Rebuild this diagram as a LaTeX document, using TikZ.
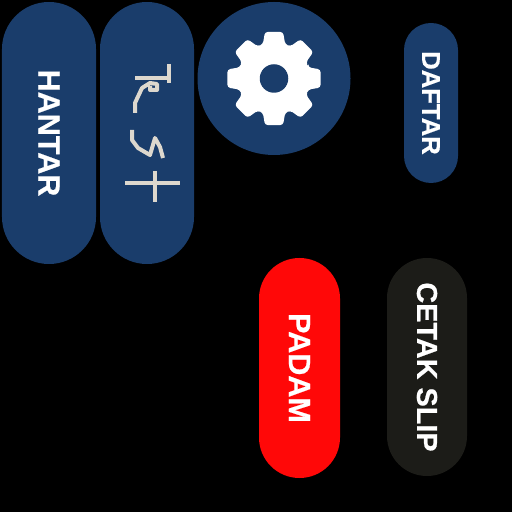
\documentclass[tikz,border=0pt]{standalone}
\usepackage{fontspec}
\setmainfont{Liberation Sans}[BoldFeatures={FakeBold=0.6}]
\usepackage{xcolor}
\usetikzlibrary{positioning,calc,shapes.misc}
\definecolor{Navy}{HTML}{1A3D6B}
\definecolor{Chalk}{HTML}{DDD8CE}
\definecolor{Alarm}{HTML}{FF0808}
\definecolor{Coal}{HTML}{1C1C18}
\tikzset{
  pill/.style={rounded rectangle,rotate=-90,inner sep=0pt,text=white,fill=Navy,font=\fontsize{17.4}{19}\selectfont\bfseries},
  chalk/.style={draw=Chalk,line width=0.8mm,line join=round}
}

\begin{document}
\begin{tikzpicture}[x=0.2mm,y=-0.2mm]
  \useasboundingbox[fill=black] (0,0) rectangle (512,512);
  \node[pill,minimum width=52.4mm,minimum height=18.8mm] (hantar) at (49,133) {HANTAR};
  \node[pill,minimum width=52.4mm,minimum height=18.8mm] (test) at (147,133) {};
  \node[pill,minimum width=32mm,minimum height=10.8mm,font=\fontsize{14.6}{17}\selectfont\bfseries] (daftar) at (431,103) {DAFTAR};
  \node[pill,fill=Alarm,minimum width=44mm,minimum height=16.2mm] (padam) at (299.5,368) {PADAM};
  \node[pill,fill=Coal,minimum width=43.6mm,minimum height=16mm,font=\fontsize{16.4}{20}\selectfont\bfseries] (cetak) at (427,367) {CETAK SLIP};
  % settings button
  \node[circle,fill=Navy,minimum size=30.6mm,inner sep=0pt] (settings) at (274,78.5) {};
  \fill[white,rounded corners=0.6mm] ($(settings.center)+(-18:36)$)
    \foreach \a in {0,45,...,315} {
      -- ($(settings.center)+({\a-18}:36)$) -- ($(settings.center)+({\a-11}:47.5)$)
      -- ($(settings.center)+({\a+11}:47.5)$) -- ($(settings.center)+({\a+18}:36)$)
    } -- cycle;
  \node[circle,fill=Navy,minimum size=5.7mm,inner sep=0pt] (hole) at (settings.center) {};
  % handwriting on the second button
  \draw[chalk] (168.5,64)--(168.5,83);
  \draw[chalk] (135,78)--(171,78);
  \draw[chalk] (135,113)--(135,103)--(142,88)--(150,83)--(157,84)--(157,90)--(150,90)--(150,86);
  \draw[chalk] (132,130)--(132,140)--(138,148)--(150,155)--(155,138)--(160,147)--(163,158);
  \draw[chalk] (125,183)--(180,183);
  \draw[chalk] (155,171)--(155,202);
\end{tikzpicture}
\end{document}
